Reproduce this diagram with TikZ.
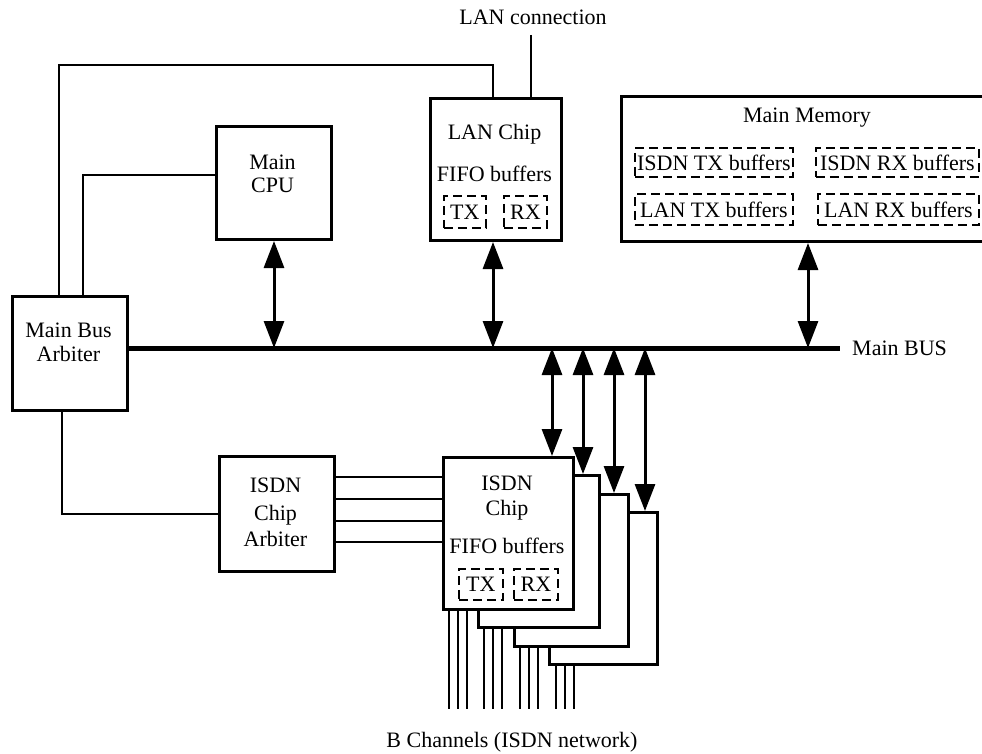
\documentclass[tikz,border=0pt]{standalone}
\usepackage{fontspec}
\setmainfont{Liberation Serif}
\usetikzlibrary{arrows.meta, positioning, calc}

\begin{document}
\begin{tikzpicture}[x=1pt, y=-1pt, font=\fontsize{22}{24}\selectfont,
    blk/.style={draw, line width=3pt, fill=white, inner sep=0pt, anchor=north west},
    buf/.style={draw, line width=1.8pt, dash pattern=on 9pt off 5pt, inner sep=0pt, anchor=north west},
    txt/.style={inner sep=0pt, anchor=base},
    wire/.style={line width=1.5pt},
    dar/.style={line width=3pt, {Triangle[length=27pt,width=20pt]}-{Triangle[length=27pt,width=20pt]}}]
\clip (0,0) rectangle (982,754);
\coordinate (bus) at (0,348);

%% main bus arbiter
\node[blk, minimum width=115pt, minimum height=114pt] (mba) at (11,295) {};
\node[txt] (mbaA) at (68.5,337) {Main Bus};
\node[txt] (mbaB) at (68.5,361) {Arbiter};

%% main CPU
\node[blk, minimum width=115pt, minimum height=113pt] (cpu) at (215,125) {};
\node[txt] (cpuA) at (272.5,170) {Main};
\node[txt] (cpuB) at (272.5,193) {CPU};

%% LAN chip
\node[blk, minimum width=131pt, minimum height=142pt] (lan) at (429,97) {};
\node[txt] (lanA) at (494.5,140) {LAN Chip};
\node[txt] (lanB) at (494.5,182) {FIFO buffers};
\node[buf, minimum width=42pt, minimum height=32pt] (lantx) at (443,195) {TX};
\node[buf, minimum width=43pt, minimum height=32pt] (lanrx) at (503,195) {RX};
\node[txt] (lanc) at (533,25) {LAN connection};
\coordinate (lanin) at (531,35);

%% main memory
\node[blk, minimum width=365pt, minimum height=145pt] (mem) at (620,95) {};
\node[txt] (memA) at (807,123) {Main Memory};
\node[buf, minimum width=158pt, minimum height=29pt] (itx) at (634,147) {ISDN TX buffers};
\node[buf, minimum width=163pt, minimum height=29pt] (irx) at (815,147) {ISDN RX buffers};
\node[buf, minimum width=158pt, minimum height=31pt] (ltx) at (634,193) {LAN TX buffers};
\node[buf, minimum width=161pt, minimum height=31pt] (lrx) at (817,193) {LAN RX buffers};

%% ISDN chip arbiter
\node[blk, minimum width=115pt, minimum height=115pt] (ica) at (218,455) {};
\node[txt] (icaA) at (275.5,492) {ISDN};
\node[txt] (icaB) at (275.5,520) {Chip};
\node[txt] (icaC) at (275.5,546) {Arbiter};

%% ISDN chips, back to front
\node[blk, minimum width=108pt, minimum height=152pt] (c4) at (548,511) {};
\node[blk, minimum width=114pt, minimum height=152pt] (c3) at (513,493) {};
\node[blk, minimum width=121pt, minimum height=152pt] (c2) at (477,474) {};
\node[blk, minimum width=130pt, minimum height=152pt] (c1) at (442,456) {};
\node[txt] (c1A) at (507,490) {ISDN};
\node[txt] (c1B) at (507,515) {Chip};
\node[txt] (c1C) at (507,553) {FIFO buffers};
\node[buf, minimum width=44pt, minimum height=31pt] (c1tx) at (458,568) {TX};
\node[buf, minimum width=44pt, minimum height=31pt] (c1rx) at (513,568) {RX};
\node[txt] (bch) at (512,747) {B Channels (ISDN network)};

%% wires
\draw[wire] (59,0 |- mba.north) -- (59,65) -- (493,65) -- (493,0 |- lan.north);
\draw[wire] (83,0 |- mba.north) |- (cpu.west |- 0,175);
\draw[wire] (lanin) -- (lanin |- lan.north);
\draw[wire] (62,0 |- mba.south) |- (ica.west);
\foreach \y in {477,499,521,542}{
  \draw[wire] (ica.east |- 0,\y) -- (c1.west |- 0,\y);
}
\foreach \c/\a in {c1/449,c2/484,c3/520,c4/556}{
  \foreach \d in {0,9,18}{
    \draw[wire] ({\a+\d},0 |- \c.south) -- ({\a+\d},709);
  }
}

%% bus and arrows
\draw[line width=5pt] (mba.east |- bus) -- (840,348) coordinate (busend);
\node[anchor=west, inner sep=0pt] (busl) at (852,348) {Main BUS};
\draw[dar] (cpu.south) -- (cpu.south |- bus);
\draw[dar] (493,0 |- lan.south) -- (493,0 |- bus);
\draw[dar] (808,0 |- mem.south) -- (808,0 |- bus);
\foreach \c/\x in {c1/552,c2/583,c3/614,c4/645}{
  \draw[dar] (\x,0 |- bus) -- (\x,0 |- \c.north);
}
\end{tikzpicture}
\end{document}
